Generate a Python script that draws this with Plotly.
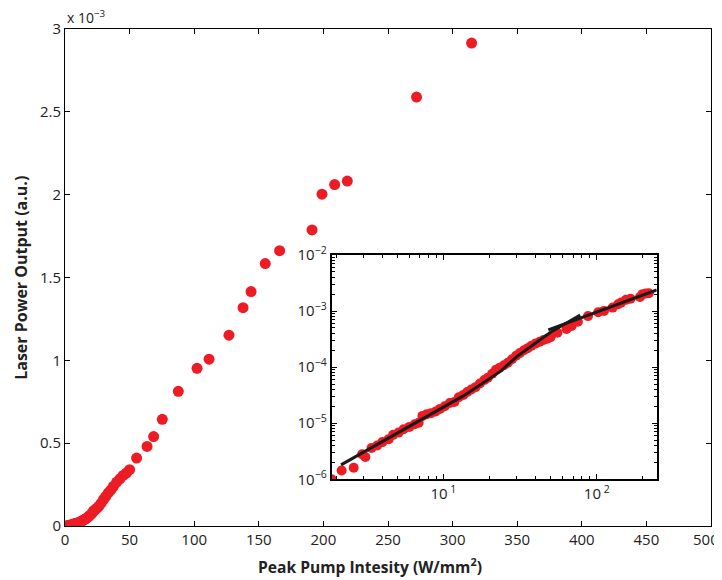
import plotly.graph_objects as go

# Peak pump intensity (W/mm^2)
intensity = [1.87, 2.17, 2.6, 2.95, 3.1, 3.4, 3.7, 4.0, 4.4, 4.7, 5.1, 5.5, 6.0, 6.5, 6.9,
             7.3, 7.8, 8.3, 8.9, 9.5, 10.2, 11.0, 11.8, 12.6, 13.5, 14.3, 15.2, 16.2, 17.3,
             18.5, 19.5, 20.8, 22.0, 23.3, 24.8, 26.3, 28.0, 29.8, 31.5, 33.5, 35.5, 37.5,
             40.0, 42.5, 45.0, 47.5, 50.0, 55.4, 63.5, 68.6, 75.3, 87.7, 102.2, 111.5,
             126.9, 137.8, 144.0, 155.0, 166.1, 191.2, 198.9, 208.7, 218.5, 272.1, 314.7]
# Laser power output (a.u.)
power = [1.0e-6, 1.43e-6, 1.6e-6, 2.8e-6, 2.5e-6, 3.6e-6, 4.0e-6, 4.6e-6, 5.2e-6, 6.2e-6,
         6.8e-6, 7.8e-6, 8.6e-6, 9.6e-6, 1.02e-5, 1.35e-5, 1.45e-5, 1.5e-5, 1.62e-5, 1.8e-5,
         2.0e-5, 2.3e-5, 2.4e-5, 2.9e-5, 3.2e-5, 3.6e-5, 4.0e-5, 4.4e-5, 5.1e-5, 5.9e-5,
         6.5e-5, 7.6e-5, 9.0e-5, 9.8e-5, 1.08e-4, 1.2e-4, 1.38e-4, 1.6e-4, 1.78e-4, 2.0e-4,
         2.18e-4, 2.4e-4, 2.65e-4, 2.85e-4, 3.05e-4, 3.2e-4, 3.4e-4, 4.1e-4, 4.8e-4, 5.4e-4,
         6.44e-4, 8.13e-4, 9.52e-4, 1.007e-3, 1.152e-3, 1.318e-3, 1.415e-3, 1.584e-3,
         1.662e-3, 1.787e-3, 2.003e-3, 2.061e-3, 2.082e-3, 2.589e-3, 2.915e-3]

# fitted curves shown in the inset
fit1_x = [2.15, 7.8, 13.5, 23.4, 30.1, 50.0, 78.0]
fit1_y = [1.81e-6, 1.31e-5, 3.07e-5, 8.3e-5, 1.54e-4, 4.2e-4, 8.5e-4]
fit2_x = [48.3, 246.0]
fit2_y = [4.6e-4, 2.38e-3]

main_xticks = list(range(0, 501, 50))
# the last label ("500") is drawn as an annotation so it is not clipped at the edge
main_xticktext = ["0", "50", "100", "150", "200", "250", "300", "350", "400", "450", ""]
last_xlabel = "500"
main_yticks = [0, 0.5e-3, 1e-3, 1.5e-3, 2e-3, 2.5e-3, 3e-3]
main_yticktext = ["0", "0.5", "1", "1.5", "2", "2.5", "3"]
inset_xticks = [10, 100]
inset_xticktext = ["10<sup> 1</sup>", "10<sup> 2</sup>"]
inset_yticks = [1e-6, 1e-5, 1e-4, 1e-3, 1e-2]
inset_yticktext = ["10<sup>−6</sup>", "10<sup>−5</sup>", "10<sup>−4</sup>",
                   "10<sup>−3</sup>", "10<sup>−2</sup>"]
inset_xminor = [2, 3, 4, 5, 6, 7, 8, 9, 20, 30, 40, 50, 60, 70, 80, 90, 200]
inset_yminor = [m * 10.0 ** e for e in (-6, -5, -4, -3) for m in range(2, 10)]

RED = "rgb(237,28,36)"
FONT = "Open Sans"
TXT = "#222"

fig = go.Figure()
fig.add_trace(go.Scatter(x=intensity, y=power, mode="markers",
                         marker=dict(color=RED, size=11), xaxis="x", yaxis="y",
                         showlegend=False))
fig.add_trace(go.Scatter(x=intensity, y=power, mode="markers",
                         marker=dict(color=RED, size=10), xaxis="x2", yaxis="y2",
                         showlegend=False))
fig.add_trace(go.Scatter(x=fit1_x, y=fit1_y, mode="lines",
                         line=dict(color="#1a1a1a", width=3), xaxis="x2", yaxis="y2",
                         showlegend=False))
fig.add_trace(go.Scatter(x=fit2_x, y=fit2_y, mode="lines",
                         line=dict(color="#1a1a1a", width=3), xaxis="x2", yaxis="y2",
                         showlegend=False))

axis_common = dict(showgrid=False, zeroline=False, showline=True, linecolor="black",
                   mirror="ticks", ticks="inside", tickcolor="black", automargin=False,
                   tickfont=dict(family=FONT, size=15, color=TXT))

fig.update_layout(
    width=714, height=572,
    margin=dict(l=57, r=11, t=21, b=54),
    paper_bgcolor="white", plot_bgcolor="white",
    xaxis=dict(range=[0, 500], tickvals=main_xticks, ticktext=main_xticktext, ticklen=5,
               linewidth=1, **axis_common),
    yaxis=dict(range=[0, 3e-3], tickvals=main_yticks, ticktext=main_yticktext, ticklen=5,
               linewidth=1, **axis_common),
    xaxis2=dict(type="log", range=[0.272, 2.391], domain=[0.4129, 0.916], anchor="y2",
                tickvals=inset_xticks, ticktext=inset_xticktext, ticklen=5, linewidth=2,
                minor=dict(ticks="inside", ticklen=3, tickvals=inset_xminor,
                           tickcolor="black"),
                **axis_common),
    yaxis2=dict(type="log", range=[-6, -2], domain=[0.094, 0.5453], anchor="x2",
                tickvals=inset_yticks, ticktext=inset_yticktext, ticklen=5, linewidth=2,
                minor=dict(ticks="inside", ticklen=3, tickvals=inset_yminor,
                           tickcolor="black"),
                **axis_common),
    annotations=[
        dict(text="x 10<sup>−3</sup>", xref="paper", yref="paper", x=0.0, y=1.0,
             xanchor="left", yanchor="bottom", showarrow=False, yshift=0,
             font=dict(family=FONT, size=14, color=TXT)),
        dict(text=last_xlabel, xref="x", yref="paper", x=main_xticks[-1], y=-0.026,
             xanchor="center", yanchor="middle", xshift=-5, showarrow=False,
             font=dict(family=FONT, size=15, color=TXT)),
        dict(text="<b>Peak Pump Intesity (W/mm<sup>2</sup>)</b>", xref="paper",
             yref="paper", x=0.4726, y=-0.0805, xanchor="center", yanchor="middle",
             showarrow=False, font=dict(family=FONT, size=15.6, color=TXT)),
        dict(text="<b>Laser Power Output (a.u.)</b>", xref="paper", yref="paper",
             x=-0.0692, y=0.5, xanchor="center", yanchor="middle", textangle=-90,
             showarrow=False, font=dict(family=FONT, size=16, color=TXT)),
    ],
)

fig.write_html("out.html")
